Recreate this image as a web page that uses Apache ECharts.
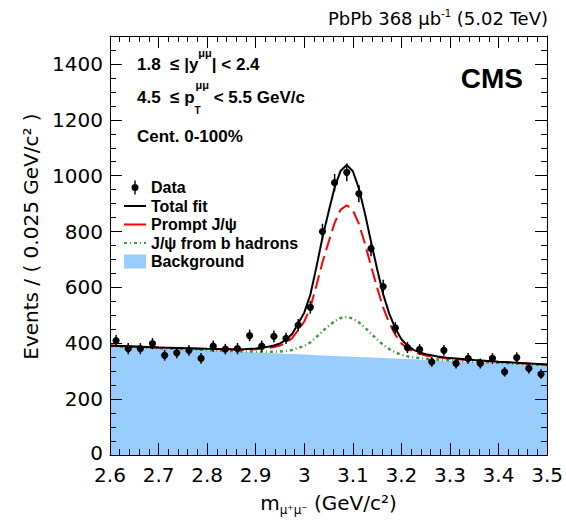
<!DOCTYPE html>
<html><head><meta charset="utf-8">
<script src="https://cdn.jsdelivr.net/npm/echarts@6/dist/echarts.min.js"></script>
<style>html,body{margin:0;padding:0;background:#fff}#c{width:566px;height:521px}</style>
</head><body><div id="c"></div>
<script>
// ---- data ----
const binCenters = [2.6125,2.6375,2.6625,2.6875,2.7125,2.7375,2.7625,2.7875,2.8125,2.8375,2.8625,2.8875,2.9125,2.9375,2.9625,2.9875,3.0125,3.0375,3.0625,3.0875,3.1125,3.1375,3.1625,3.1875,3.2125,3.2375,3.2625,3.2875,3.3125,3.3375,3.3625,3.3875,3.4125,3.4375,3.4625,3.4875];
const dataCounts = [410,381,381,399,357,366,375,346,390,379,381,428,390,425,418,465,529,800,975,1012,936,739,603,455,385,378,334,375,328,346,328,346,298,349,310,290];
const dataErrors = [20,20,20,20,19,19,19,19,20,19,20,21,20,21,20,22,23,28,31,32,31,27,25,21,20,19,18,19,18,19,18,19,17,19,18,17];

const fitX = [2.6,2.7,2.8,2.85,2.875,2.9,2.925,2.9375,2.95,2.9625,2.975,2.9875,3.0,3.0125,3.025,3.0375,3.05,3.0625,3.075,3.0875,3.1,3.1125,3.125,3.1375,3.15,3.1625,3.175,3.1875,3.2,3.2125,3.225,3.2375,3.25,3.275,3.3,3.35,3.4,3.5];
const fitBackground = [390.0,382.4,374.9,371.1,369.2,367.3,365.4,364.5,363.5,362.6,361.6,360.7,359.7,358.8,357.8,356.9,355.9,355.0,354.1,353.1,352.2,351.2,350.3,349.3,348.4,347.4,346.5,345.5,344.6,343.6,342.7,341.7,340.8,339.0,337.1,333.3,329.5,322.0];
const fitTotal = [392.0,385.4,380.9,379.1,379.2,381.3,387.4,392.5,399.5,412.6,433.6,470.7,509.7,573.8,672.8,778.9,869.9,958.0,1018.1,1038.1,1016.2,954.2,864.3,763.3,666.4,575.4,506.5,453.5,414.6,391.6,376.7,367.7,360.8,353.0,347.1,340.3,334.5,324.0];
const fitPrompt = [391.6,384.8,379.6,377.4,377.1,378.4,382.8,386.6,391.9,402.1,418.5,447.6,478.2,528.6,606.7,690.3,761.9,831.4,878.7,894.3,876.8,827.6,756.4,676.4,599.6,527.5,472.9,430.8,399.9,381.5,369.6,362.2,356.6,350.1,345.0,338.8,333.5,323.6];
const fitNonprompt = [390.4,383.0,376.1,372.7,371.3,370.2,369.9,370.3,370.9,372.9,376.4,383.4,390.6,403.1,422.7,443.8,461.8,479.2,490.9,494.2,489.0,475.4,456.2,434.6,413.9,394.4,379.5,367.7,359.0,353.5,349.7,347.1,344.9,341.9,339.2,334.7,330.5,322.4];

const xTickValues = [2.6,2.7,2.8,2.9,3.0,3.1,3.2,3.3,3.4,3.5];
const xTickLabels = ['2.6','2.7','2.8','2.9','3','3.1','3.2','3.3','3.4','3.5'];
const yTickValues = [0,200,400,600,800,1000,1200,1400];
const yTickLabels = ['0','200','400','600','800','1000','1200','1400'];

const seriesNames = ['Data','Total fit','Prompt J/ψ','J/ψ from b hadrons','Background'];

// ---- helpers ----
const FN = 'DejaVu Sans, Liberation Sans, sans-serif';
const FB = 'Liberation Sans, Arial, sans-serif';
function labelFor(values, labels, wrapZero) {
  return function (v) {
    for (let i = 0; i < values.length; i++) {
      if (Math.abs(values[i] - v) < 1e-6) {
        return (wrapZero && values[i] === 0) ? '{z|' + labels[i] + '}' : labels[i];
      }
    }
    return '';
  };
}
const zip = (xs, ys) => xs.map((x, i) => [x, ys[i]]);
const BLUE = '#99ccff';

function mkX(pos, interval, major, showLabel) {
  const ax = {
    type: 'value', position: pos, min: 2.6, max: 3.5, interval: interval, z: 10,
    axisLine: { show: major, onZero: false, lineStyle: { color: '#000', width: 1 } },
    axisTick: { show: true, inside: true, length: major ? 12 : 6, lineStyle: { color: '#000', width: 1 } },
    axisLabel: { show: showLabel },
    splitLine: { show: false }
  };
  if (showLabel) {
    ax.axisLabel = { show: true, fontFamily: FN, fontSize: 20, color: '#000', margin: 10,
      formatter: labelFor(xTickValues, xTickLabels, false) };
    ax.name = 'm{sub|μ⁺μ⁻} (GeV/c²)';
    ax.nameLocation = 'middle';
    ax.nameGap = 31;
    ax.nameTextStyle = { fontFamily: FN, fontSize: 20, color: '#000', lineHeight: 24,
      rich: { sub: { fontFamily: FN, fontSize: 12, color: '#000', lineHeight: 12, padding: [14, 0, 0, 0] } } };
  }
  return ax;
}
function mkY(pos, interval, major, showLabel) {
  const ax = {
    type: 'value', position: pos, min: 0, max: 1500, interval: interval, z: 10,
    axisLine: { show: major, onZero: false, lineStyle: { color: '#000', width: 1 } },
    axisTick: { show: true, inside: true, length: major ? 12 : 6, lineStyle: { color: '#000', width: 1 } },
    axisLabel: { show: showLabel },
    splitLine: { show: false }
  };
  if (showLabel) {
    ax.axisLabel = { show: true, fontFamily: FN, fontSize: 20, color: '#000', margin: 7,
      showMaxLabel: false, formatter: labelFor(yTickValues, yTickLabels, true),
      rich: { z: { fontFamily: FN, fontSize: 20, color: '#000', padding: [0, 0, 5, 0] } } };
    ax.name = 'Events / ( 0.025 GeV/c² )';
    ax.nameLocation = 'middle';
    ax.nameRotate = 90;
    ax.nameGap = 62;
    ax.nameTextStyle = { fontFamily: FN, fontSize: 20, color: '#000', padding: [0, 0, 0, 18] };
  }
  return ax;
}

const DATA_ICON = 'path://M0,0 M22,14 M10.3,0 L11.7,0 L11.7,14 L10.3,14 Z M14.5,7 A3.5,3.5 0 1 1 7.5,7 A3.5,3.5 0 1 1 14.5,7 Z';
const HIDE_SYMBOL = { color: 'rgba(0,0,0,0)', borderWidth: 0, opacity: 0 };

const option = {
  animation: false,
  backgroundColor: '#fff',
  grid: { left: 110, right: 18, top: 36, bottom: 60, containLabel: false },
  title: [
    { text: '{n|PbPb 368 μb}{s|-1}{n| (5.02 TeV)}', right: 18, top: 7.5, padding: 0,
      textStyle: { fontWeight: 'normal', rich: {
        n: { fontFamily: FN, fontSize: 18, fontWeight: 'normal', color: '#000', lineHeight: 22 },
        s: { fontFamily: FN, fontSize: 10, fontWeight: 'normal', color: '#000', lineHeight: 10, padding: [0, 0, 10, 0] } } } },
    { text: '{c|CMS}', right: 43, top: 63, padding: 0,
      textStyle: { rich: { c: { fontFamily: FB, fontSize: 28, fontWeight: 'bold', color: '#000', lineHeight: 30 } } } },
    { text: '{b|1.8  ≤ |y}{s|μμ}{b|| < 2.4}', left: 137, top: 54.5, padding: 0,
      textStyle: { rich: {
        b: { fontFamily: FB, fontSize: 17, fontWeight: 'bold', color: '#000', lineHeight: 20 },
        s: { fontFamily: FB, fontSize: 11, fontWeight: 'bold', color: '#000', lineHeight: 11, padding: [0, 0, 24, 0] } } } },
    { text: '{b|4.5  ≤ p}{t|T}{s|μμ}{b| < 5.5 GeV/c}', left: 137, top: 87, padding: 0,
      textStyle: { rich: {
        b: { fontFamily: FB, fontSize: 17, fontWeight: 'bold', color: '#000', lineHeight: 20 },
        t: { fontFamily: FB, fontSize: 10, fontWeight: 'bold', color: '#000', lineHeight: 10, width: 1, padding: [26, 0, 0, 0] },
        s: { fontFamily: FB, fontSize: 11, fontWeight: 'bold', color: '#000', lineHeight: 11, padding: [0, 0, 25, 0] } } } },
    { text: '{b|Cent. 0-100%}', left: 137, top: 126, padding: 0,
      textStyle: { rich: { b: { fontFamily: FB, fontSize: 17, fontWeight: 'bold', color: '#000', lineHeight: 20 } } } }
  ],
  legend: {
    orient: 'vertical', left: 123, top: 179.5, padding: 0,
    itemWidth: 22, itemHeight: 14, itemGap: 2.5,
    textStyle: { fontFamily: FB, fontSize: 16, fontWeight: 'bold', color: '#000' },
    data: [
      { name: seriesNames[0], icon: DATA_ICON },
      { name: seriesNames[1], itemStyle: HIDE_SYMBOL },
      { name: seriesNames[2], itemStyle: HIDE_SYMBOL, lineStyle: { type: 'solid' } },
      { name: seriesNames[3], itemStyle: HIDE_SYMBOL },
      { name: seriesNames[4], icon: 'rect', itemStyle: { color: BLUE, borderWidth: 0 } }
    ]
  },
  xAxis: [
    mkX('bottom', 0.1, true, true),
    mkX('bottom', 0.02, false, false),
    mkX('top', 0.1, true, false),
    mkX('top', 0.02, false, false)
  ],
  yAxis: [
    mkY('left', 200, true, true),
    mkY('left', 50, false, false),
    mkY('right', 200, true, false),
    mkY('right', 50, false, false)
  ],
  series: [
    { name: seriesNames[4], type: 'line', data: zip(fitX, fitBackground), symbol: 'none', z: 1,
      silent: true, itemStyle: { color: BLUE }, lineStyle: { width: 0, color: BLUE },
      areaStyle: { color: BLUE, opacity: 1 } },
    { name: seriesNames[3], type: 'line', data: zip(fitX, fitNonprompt), symbol: 'none', z: 2,
      itemStyle: { color: '#3c9c3c' }, lineStyle: { color: '#3c9c3c', width: 2.5, type: [3, 3, 1, 3] } },
    { name: seriesNames[2], type: 'line', data: zip(fitX, fitPrompt), symbol: 'none', z: 3,
      itemStyle: { color: '#ff0000' }, lineStyle: { color: '#ff0000', width: 2, type: [14, 6] } },
    { name: seriesNames[1], type: 'line', data: zip(fitX, fitTotal), symbol: 'none', z: 4,
      itemStyle: { color: '#000' }, lineStyle: { color: '#000', width: 2 } },
    { name: seriesNames[0], type: 'custom', z: 5,
      itemStyle: { color: '#000' },
      data: binCenters.map((x, i) => [x, dataCounts[i], dataErrors[i]]),
      encode: { x: 0, y: 1 },
      renderItem: function (params, api) {
        const x = api.value(0), y = api.value(1), e = api.value(2);
        const p = api.coord([x, y]);
        const hi = api.coord([x, y + e]);
        const lo = api.coord([x, y - e]);
        return { type: 'group', children: [
          { type: 'line', shape: { x1: p[0], y1: hi[1], x2: p[0], y2: lo[1] }, style: { stroke: '#000', lineWidth: 1.5 } },
          { type: 'circle', shape: { cx: p[0], cy: p[1], r: 3.6 }, style: { fill: '#000' } }
        ] };
      }
    }
  ]
};
const chart = echarts.init(document.getElementById('c'), null, { renderer: 'svg' });
chart.setOption(option);
</script>
</body></html>
